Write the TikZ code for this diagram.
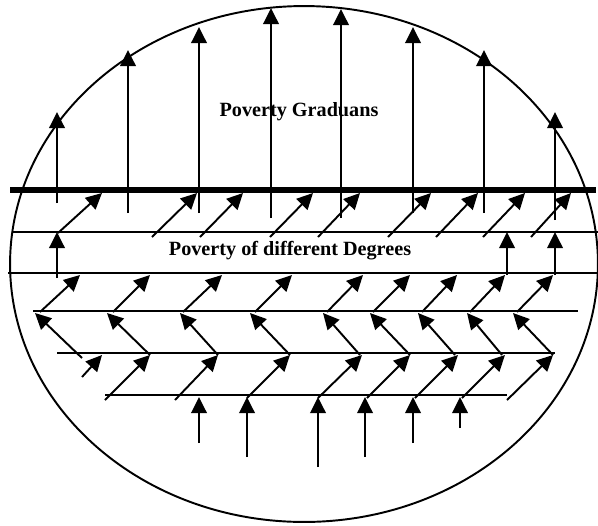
\documentclass[tikz,border=0pt]{standalone}
\usepackage{fontspec}
\setmainfont{Liberation Serif}
\usetikzlibrary{arrows.meta}

\begin{document}
\begin{tikzpicture}[x=0.02cm,y=-0.02cm,>={Triangle[length=0.32cm,width=0.31cm]},line width=1.1pt,font=\bfseries\fontsize{11.5}{13}\selectfont]
\useasboundingbox (0,0) rectangle (598,525);
\draw (304,264) ellipse [x radius=5.88cm,y radius=5.16cm];
\draw[line width=3.4pt] (10,190) -- (596,190);
\draw (13,232) -- (598,232);
\draw (8,273) -- (598,273);
\draw (33,311) -- (578,311);
\draw (57,353) -- (555,353);
\draw (105,395) -- (507,395);
\node (grad) at (299,112) {Poverty Graduans};
\node (deg) at (290,251) {Poverty of different Degrees};
\draw[->] (57,203) -- (57,112);
\draw[->] (128,213) -- (128,50);
\draw[->] (199,213) -- (199,27);
\draw[->] (271,218) -- (271,8);
\draw[->] (341,218) -- (341,9);
\draw[->] (413,213) -- (413,27);
\draw[->] (484,213) -- (484,50);
\draw[->] (555,220) -- (555,112);
\draw[->] (58,233) -- (102,193);
\draw[->] (152,237) -- (197,193);
\draw[->] (200,237) -- (243,193);
\draw[->] (270,237) -- (313,193);
\draw[->] (318,237) -- (360,193);
\draw[->] (388,237) -- (431,193);
\draw[->] (436,237) -- (478,193);
\draw[->] (483,237) -- (525,193);
\draw[->] (531,237) -- (571,193);
\draw[->] (57,278) -- (57,232);
\draw[->] (507,275) -- (507,232);
\draw[->] (555,275) -- (555,232);
\draw[->] (40,312) -- (80,275);
\draw[->] (113,312) -- (150,275);
\draw[->] (183,312) -- (222,275);
\draw[->] (255,312) -- (292,275);
\draw[->] (327,312) -- (363,275);
\draw[->] (373,312) -- (410,275);
\draw[->] (422,312) -- (457,275);
\draw[->] (470,312) -- (505,275);
\draw[->] (517,312) -- (553,275);
\draw[->] (82,358) -- (35,313);
\draw[->] (150,355) -- (107,313);
\draw[->] (218,355) -- (180,313);
\draw[->] (290,355) -- (250,313);
\draw[->] (360,355) -- (323,313);
\draw[->] (410,355) -- (370,313);
\draw[->] (455,355) -- (418,313);
\draw[->] (502,355) -- (467,313);
\draw[->] (553,355) -- (513,313);
\draw[->] (82,377) -- (102,355);
\draw[->] (105,400) -- (150,355);
\draw[->] (175,400) -- (218,355);
\draw[->] (247,398) -- (290,355);
\draw[->] (318,398) -- (362,355);
\draw[->] (367,398) -- (410,355);
\draw[->] (415,398) -- (458,355);
\draw[->] (462,398) -- (505,355);
\draw[->] (507,400) -- (553,355);
\draw[->] (199,443) -- (199,397);
\draw[->] (247,457) -- (247,397);
\draw[->] (318,467) -- (318,397);
\draw[->] (365,457) -- (365,397);
\draw[->] (413,443) -- (413,397);
\draw[->] (460,428) -- (460,397);
\end{tikzpicture}
\end{document}
